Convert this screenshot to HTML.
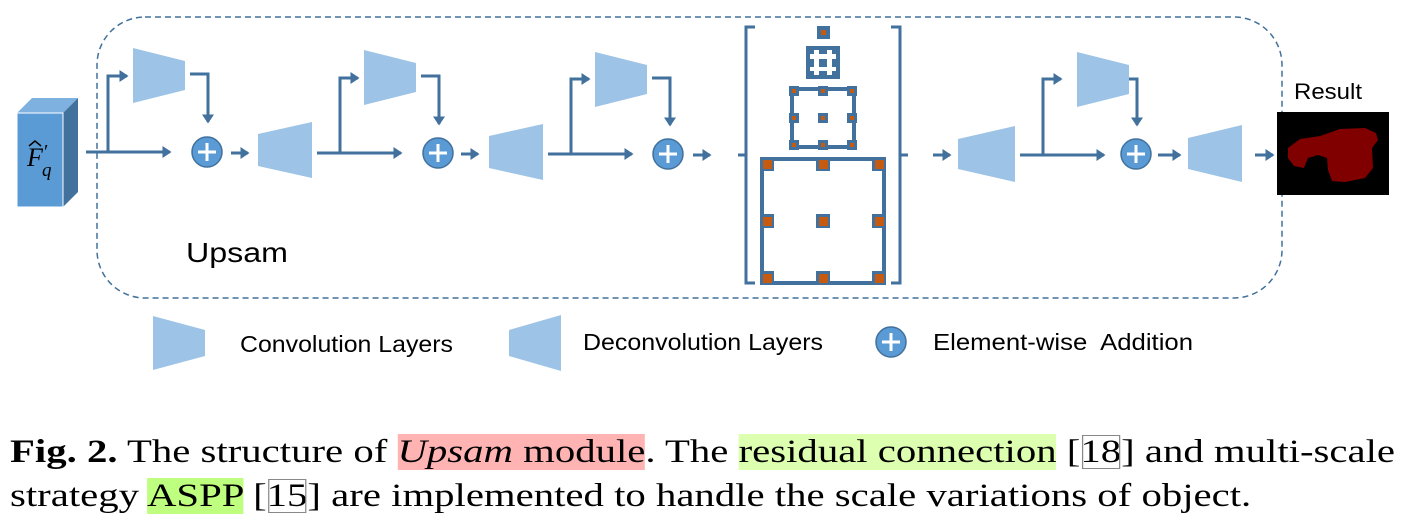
<!DOCTYPE html>
<html><head><meta charset="utf-8"><style>
html,body{margin:0;padding:0;background:#fff;width:1410px;height:528px;overflow:hidden;position:relative}
svg{position:absolute;left:0;top:0}
.cap{position:absolute;left:10px;font-family:"Liberation Serif",serif;font-size:33px;color:#000;white-space:nowrap;line-height:36px;transform:scaleX(1.235);transform-origin:0 0}
.pk{background:#ffb3b3}.lg{background:#dcffb0}.gg{background:#bfff80}
.bx{outline:1px solid #888;outline-offset:-2px}
</style></head><body>
<svg width="1410" height="400" viewBox="0 0 1410 400">
<defs>
<marker id="a" markerWidth="4" markerHeight="4" refX="2.5" refY="2" orient="auto" markerUnits="strokeWidth"><path d="M0,0 L3,2 L0,4 z" fill="#41719c"/></marker>
<g id="plus"><circle r="15" fill="#5b9bd5" stroke="#41719c" stroke-width="1.5"/><path d="M-9,0H9M0,-9V9" stroke="#fff" stroke-width="3"/></g>
</defs>
<rect x="97" y="17" width="1185" height="281" rx="48" fill="none" stroke="#41719c" stroke-width="1.5" stroke-dasharray="6,4"/>
<polygon points="17,113 32,98 78,98 63,113" fill="#7eb1e0"/>
<polygon points="63,113 78,98 78,192 63,207" fill="#41719c"/>
<rect x="17" y="113" width="46" height="94" fill="#5b9bd5" stroke="#fff" stroke-width="1"/>
<text x="27" y="166" font-family="Liberation Serif,serif" font-style="italic" font-size="26" fill="#000">F</text>
<path d="M29,146 L35,141 L41,146" stroke="#000" stroke-width="1.5" fill="none"/>
<text x="42" y="176" font-family="Liberation Serif,serif" font-style="italic" font-size="19">q</text>
<text x="44" y="158" font-family="Liberation Serif,serif" font-size="20">′</text>
<g stroke="#41719c" stroke-width="3" fill="none">
<path d="M86,152H170" marker-end="url(#a)"/><path d="M108,152V76H127" marker-end="url(#a)"/>
<path d="M190,74H208V122" marker-end="url(#a)"/><path d="M231,153H248" marker-end="url(#a)"/>
<path d="M317,153H401" marker-end="url(#a)"/><path d="M340,153V78H358" marker-end="url(#a)"/>
<path d="M421,76H439V124" marker-end="url(#a)"/><path d="M461,154H478" marker-end="url(#a)"/>
<path d="M548,154H632" marker-end="url(#a)"/><path d="M571,154V79H589" marker-end="url(#a)"/>
<path d="M652,78H670V125" marker-end="url(#a)"/><path d="M693,155H710" marker-end="url(#a)"/>
<path d="M933,155H950" marker-end="url(#a)"/>
<path d="M1020,155H1104" marker-end="url(#a)"/><path d="M1043,155V79H1061" marker-end="url(#a)"/>
<path d="M1125,79H1137V125" marker-end="url(#a)"/><path d="M1158,155H1180" marker-end="url(#a)"/>
<path d="M1255,155H1273" marker-end="url(#a)"/>
<path d="M755,27H746V283H755M746,155H738"/>
<path d="M891,27H900V283H891M900,155H908"/>
</g>
<g fill="#9dc3e6">
<polygon points="133,48 185,61 185,90 133,103"/>
<polygon points="364,50 416,63 416,92 364,105"/>
<polygon points="595,52 647,65 647,94 595,107"/>
<polygon points="1077,52 1129,65 1129,94 1077,107"/>
<polygon points="258,134 312,122 312,178 258,166"/>
<polygon points="489,136 543,124 543,180 489,168"/>
<polygon points="958,139 1015,126 1015,182 958,169"/>
<polygon points="1188,138 1242,125 1242,182 1188,169"/>
<polygon points="153,316 205,330 205,356 153,370"/>
<polygon points="509,330 561,315 561,371 509,356"/>
</g>
<use href="#plus" x="207" y="152"/><use href="#plus" x="438" y="153"/><use href="#plus" x="668" y="154"/><use href="#plus" x="1136" y="154"/>
<use href="#plus" x="891" y="342"/>
<rect x="817" y="26" width="13" height="13" fill="#41719c"/><rect x="821" y="30" width="5" height="5" fill="#c55a11"/>
<rect x="808" y="48" width="30" height="29" fill="none" stroke="#41719c" stroke-width="4"/>
<g fill="#41719c"><rect x="806" y="46" width="8" height="8"/><rect x="819" y="46" width="8" height="8"/><rect x="832" y="46" width="8" height="8"/><rect x="806" y="59" width="8" height="8"/><rect x="819" y="59" width="8" height="8"/><rect x="832" y="59" width="8" height="8"/><rect x="806" y="71" width="8" height="8"/><rect x="819" y="71" width="8" height="8"/><rect x="832" y="71" width="8" height="8"/></g>
<rect x="792" y="89" width="62" height="58" fill="none" stroke="#41719c" stroke-width="4"/>
<g fill="#41719c"><rect x="789" y="86" width="10" height="10"/><rect x="818" y="86" width="10" height="10"/><rect x="847" y="86" width="10" height="10"/><rect x="789" y="113" width="10" height="10"/><rect x="818" y="113" width="10" height="10"/><rect x="847" y="113" width="10" height="10"/><rect x="789" y="140" width="10" height="10"/><rect x="818" y="140" width="10" height="10"/><rect x="847" y="140" width="10" height="10"/></g>
<g fill="#c55a11"><rect x="792" y="89" width="4" height="4"/><rect x="821" y="89" width="4" height="4"/><rect x="850" y="89" width="4" height="4"/><rect x="792" y="116" width="4" height="4"/><rect x="821" y="116" width="4" height="4"/><rect x="850" y="116" width="4" height="4"/><rect x="792" y="143" width="4" height="4"/><rect x="821" y="143" width="4" height="4"/><rect x="850" y="143" width="4" height="4"/></g>
<rect x="762" y="159" width="122" height="124" fill="none" stroke="#41719c" stroke-width="4"/>
<g fill="#41719c"><rect x="760" y="157" width="14" height="14"/><rect x="816" y="157" width="14" height="14"/><rect x="872" y="157" width="14" height="14"/><rect x="760" y="214" width="14" height="14"/><rect x="816" y="214" width="14" height="14"/><rect x="872" y="214" width="14" height="14"/><rect x="760" y="271" width="14" height="14"/><rect x="816" y="271" width="14" height="14"/><rect x="872" y="271" width="14" height="14"/></g>
<g fill="#c55a11"><rect x="763" y="160" width="9" height="9"/><rect x="819" y="160" width="9" height="9"/><rect x="875" y="160" width="9" height="9"/><rect x="763" y="217" width="9" height="9"/><rect x="819" y="217" width="9" height="9"/><rect x="875" y="217" width="9" height="9"/><rect x="763" y="274" width="9" height="9"/><rect x="819" y="274" width="9" height="9"/><rect x="875" y="274" width="9" height="9"/></g>
<rect x="1277" y="112" width="112" height="83" fill="#000"/>
<path d="M1288,148 L1300,139 L1320,136 L1340,129 L1365,128 L1376,133 L1378,140 L1372,148 L1373,168 L1365,178 L1345,182 L1332,181 L1328,170 L1327,158 L1318,155 L1308,158 L1304,168 L1294,166 L1288,158 Z" fill="#800000"/>
<g font-family="Liberation Sans,sans-serif" fill="#000">
<text x="186" y="262" font-size="28" textLength="102" lengthAdjust="spacingAndGlyphs">Upsam</text>
<text x="1294" y="99" font-size="22" textLength="68" lengthAdjust="spacingAndGlyphs">Result</text>
<text x="240" y="352" font-size="23" textLength="213" lengthAdjust="spacingAndGlyphs">Convolution Layers</text>
<text x="583" y="350" font-size="23" textLength="240" lengthAdjust="spacingAndGlyphs">Deconvolution Layers</text>
<text x="933" y="350" font-size="23" textLength="260" lengthAdjust="spacingAndGlyphs">Element-wise&#160; Addition</text>
</g>
</svg>
<div class="cap" style="top:434px"><b>Fig. 2.</b> The structure of <span class="pk"><i>Upsam</i> module</span>. The <span class="lg">residual connection</span> [<span class="bx">18</span>] and multi-scale</div>
<div class="cap" style="top:478px">strategy <span class="gg">ASPP</span> [<span class="bx">15</span>] are implemented to handle the scale variations of object.</div>
</body></html>
